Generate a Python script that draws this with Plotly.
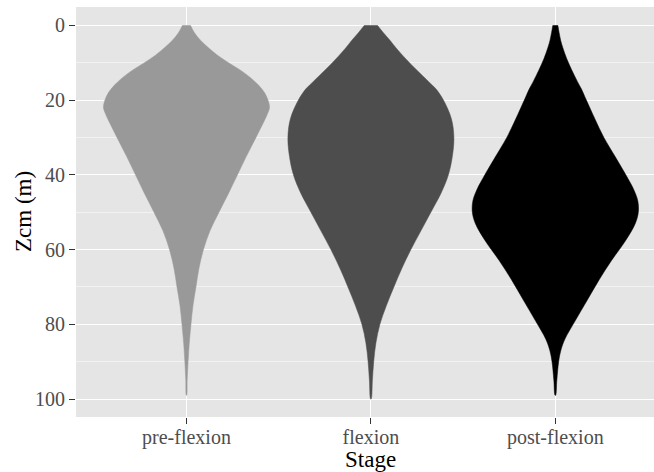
import plotly.graph_objects as go

# Stages along the x axis and their fill colours
stages = ["pre-flexion", "flexion", "post-flexion"]
stage_fills = ["#999999", "#4d4d4d", "#000000"]

# Kernel density of centre-of-mass depth (Zcm, m) for each stage
pre_depth = [0, 2, 4, 6, 8, 10, 12, 14, 16, 18, 20, 22, 24, 26, 30, 35, 40, 45,
             50, 55, 60, 65, 70, 75, 80, 85, 90, 95, 99]
pre_density = [4, 8, 14, 22, 31, 42, 54, 64, 72, 78, 81.5, 83, 80.5, 77, 69.5,
               60, 51, 42, 32.5, 23.5, 17, 12.5, 9.5, 6.5, 4.5, 2.8, 1.6, 0.7, 0.2]

flex_depth = [0, 2, 4, 6, 9, 12, 15, 17, 20, 25, 30, 35, 40, 45, 50, 55, 60,
              65, 70, 75, 80, 85, 90, 95, 100]
flex_density = [6.5, 12.5, 19, 25, 35, 46, 57.5, 65, 72.5, 80.5, 83, 81.5, 77.5,
                70, 60, 50, 40, 31, 23, 15.5, 9, 5, 2.8, 1.5, 0.3]

post_depth = [0, 2, 4, 6, 9, 12, 15, 17, 20, 25, 30, 35, 40, 44, 47, 50, 53,
              57.5, 63, 68, 73.5, 79, 84, 87, 90, 95, 99]
post_density = [2.5, 3.8, 5.3, 7.5, 11.5, 16.5, 22, 26, 31, 39.5, 48.5, 59.5,
                70.5, 78.5, 82.5, 83, 80, 70.5, 56, 44, 32, 20, 9.5, 5.5, 3.3,
                1.5, 0.3]

depths = [pre_depth, flex_depth, post_depth]
densities = [pre_density, flex_density, post_density]

violin_width = 0.9  # widest violin spans 0.9 of a category slot
peak = max(max(d) for d in densities)

fig = go.Figure()
for i, (name, fill, dep, den) in enumerate(zip(stages, stage_fills, depths, densities)):
    centre = i + 1
    half = [violin_width / 2 * v / peak for v in den]
    xs = [centre + h for h in half] + [centre - h for h in reversed(half)]
    ys = list(dep) + list(reversed(dep))
    fig.add_trace(go.Scatter(
        x=xs, y=ys, mode="lines", fill="toself", fillcolor=fill,
        line=dict(color=fill, width=0.5, shape="spline", smoothing=1),
        name=name, showlegend=False, hoverinfo="skip",
    ))

tick_font = dict(family="Liberation Serif", size=20, color="#4d4d4d")
title_font = dict(family="Liberation Serif", size=23, color="#000000")

fig.update_layout(
    width=654, height=472,
    margin=dict(l=76, r=0, t=7, b=55),
    paper_bgcolor="#ffffff",
    plot_bgcolor="#e5e5e5",
    xaxis=dict(
        range=[0.401, 3.535],
        tickmode="array", tickvals=[1, 2, 3], ticktext=stages,
        showgrid=True, gridcolor="#ffffff", gridwidth=1.4,
        zeroline=False, showline=False,
        ticks="outside", ticklen=6, tickwidth=1.2, tickcolor="#333333",
        tickfont=tick_font, ticklabelstandoff=-4,
    ),
    yaxis=dict(
        range=[104.8, -4.9],
        tickmode="array", tickvals=[0, 20, 40, 60, 80, 100],
        showgrid=True, gridcolor="#ffffff", gridwidth=1.4,
        minor=dict(tickmode="array", tickvals=[10, 30, 50, 70, 90],
                   showgrid=True, gridcolor="#f2f2f2", gridwidth=0.8),
        zeroline=False, showline=False,
        ticks="outside", ticklen=6, tickwidth=1.2, tickcolor="#333333",
        tickfont=tick_font,
    ),
    annotations=[
        dict(text="Stage", x=2, xref="x", y=0, yref="paper",
             yanchor="top", yshift=-29, borderpad=0,
             showarrow=False, font=title_font),
        dict(text="Zcm (m)", x=0, xref="paper", xanchor="center", xshift=-53,
             y=0.5, yref="paper", textangle=-90, showarrow=False, font=title_font),
    ],
)

fig.write_html("out.html")
